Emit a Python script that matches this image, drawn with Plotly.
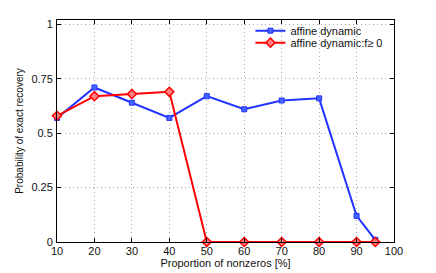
import plotly.graph_objects as go

x_vals = [10, 20, 30, 40, 50, 60, 70, 80, 90, 95]
blue_vals = [0.57, 0.71, 0.64, 0.57, 0.67, 0.61, 0.65, 0.66, 0.12, 0.01]
red_vals = [0.58, 0.67, 0.68, 0.69, 0, 0, 0, 0, 0, 0]
x_ticks = [10, 20, 30, 40, 50, 60, 70, 80, 90, 100]
y_ticks = [0, 0.25, 0.5, 0.75, 1]
y_ticktext = ["0", "0.25", "0.5", "0.75", "1"]

FONT = "Liberation Sans, Arial"

fig = go.Figure()
fig.add_trace(go.Scatter(
    x=x_vals, y=blue_vals, name="affine dynamic", mode="lines+markers",
    line=dict(color="#2233ff", width=2), cliponaxis=False, legend="legend",
    marker=dict(symbol="square", size=5, color="#4466ff", line=dict(color="#2233ff", width=1)),
))
fig.add_trace(go.Scatter(
    x=x_vals, y=red_vals, name="affine dynamic:f≥ 0", mode="lines+markers",
    line=dict(color="#ff0000", width=2), cliponaxis=False, legend="legend2",
    marker=dict(symbol="diamond", size=7, color="#ff8080", line=dict(color="#ff0000", width=1.5)),
))

axis_common = dict(
    showline=True, linecolor="black", linewidth=1, mirror="ticks",
    ticks="inside", ticklen=4, tickcolor="black", automargin=False,
    showgrid=True, gridcolor="#a8a8a8", griddash="1px,3px", gridwidth=1,
    zeroline=False, tickfont=dict(family=FONT, size=11, color="#111111"),
)

fig.update_xaxes(range=[10, 100], tickvals=x_ticks, ticklabelstandoff=-1,
                 title=dict(text="Proportion of nonzeros [%]", standoff=0,
                            font=dict(family=FONT, size=11, color="#111111")),
                 **axis_common)
fig.update_yaxes(range=[0, 1.02], tickvals=y_ticks, ticktext=y_ticktext,
                 ticklabelstandoff=1,
                 title=dict(text="Probability of exact recovery", standoff=5,
                            font=dict(family=FONT, size=10, color="#111111")),
                 **axis_common)

leg_common = dict(xanchor="left", yanchor="middle", bgcolor="rgba(0,0,0,0)",
                  borderwidth=0, font=dict(family=FONT, size=11, color="#111111"),
                  itemwidth=30)

fig.update_layout(
    width=436, height=273,
    margin=dict(l=57, r=42, t=20, b=31),
    plot_bgcolor="white", paper_bgcolor="white",
    showlegend=True,
    legend=dict(x=0.574, y=0.952, **leg_common),
    legend2=dict(x=0.574, y=0.898, **leg_common),
)

fig.write_html("out.html", config={"displayModeBar": False},
               post_script="document.body.style.margin='0';document.body.style.overflow='hidden';")
